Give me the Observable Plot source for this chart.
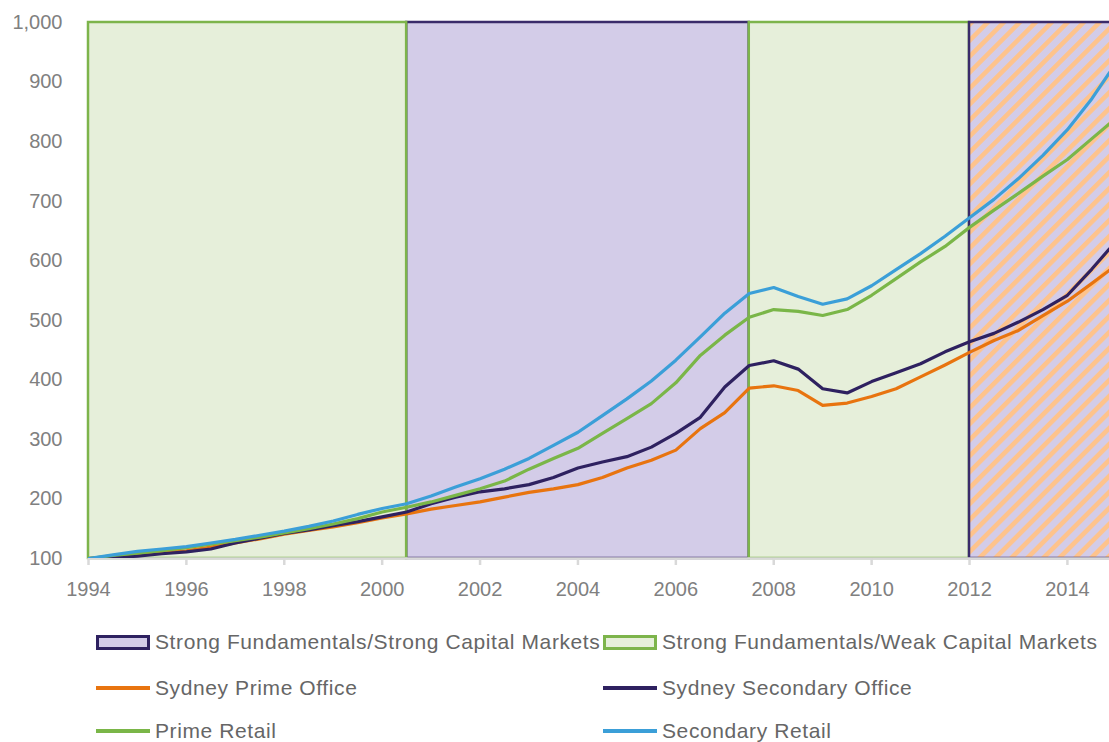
<!DOCTYPE html>
<html>
<head>
<meta charset="utf-8">
<script src="https://cdn.jsdelivr.net/npm/d3@7"></script>
<script src="https://cdn.jsdelivr.net/npm/@observablehq/plot@0.6"></script>
<style>
  html, body { margin: 0; padding: 0; background: #fff; }
  #wrap { position: relative; width: 1109px; height: 742px; overflow: hidden; font-family: "Liberation Sans", Arial, sans-serif; }
  #chart { position: absolute; left: 0; top: 0; }
  .leg { position: absolute; display: flex; align-items: center; font-size: 21px; letter-spacing: 0.6px; color: #666; white-space: nowrap; }
  .sw-box { box-sizing: border-box; width: 54px; height: 15px; border: 3px solid; margin-right: 5px; }
  .sw-line { width: 54px; height: 4px; margin-right: 5px; }
</style>
</head>
<body>
<div id="wrap">
  <div id="chart"></div>
  <div id="legend"></div>
</div>
<script>
// ---- Data ----
const years = [1994, 1994.5, 1995, 1995.5, 1996, 1996.5, 1997, 1997.5, 1998, 1998.5,
  1999, 1999.5, 2000, 2000.5, 2001, 2001.5, 2002, 2002.5, 2003, 2003.5,
  2004, 2004.5, 2005, 2005.5, 2006, 2006.5, 2007, 2007.5, 2008, 2008.5,
  2009, 2009.5, 2010, 2010.5, 2011, 2011.5, 2012, 2012.5, 2013, 2013.5,
  2014, 2014.5, 2014.86];

const sydneyPrimeOffice = [100, 104, 107, 110, 113, 119, 126, 133, 141, 147,
  153, 160, 168, 175, 183, 189, 195, 203, 211, 217,
  224, 236, 252, 265, 282, 318, 345, 386, 390, 382,
  357, 361, 372, 385, 405, 425, 446, 466, 483, 508,
  532, 562, 584];

const sydneySecondaryOffice = [100, 101, 104, 108, 111, 116, 126, 134, 142, 148,
  155, 162, 170, 178, 192, 203, 212, 217, 224, 236,
  252, 262, 271, 287, 310, 337, 388, 424, 432, 418,
  385, 378, 397, 412, 427, 447, 464, 478, 497, 518,
  542, 586, 620];

const primeRetail = [100, 105, 109, 113, 118, 124, 130, 136, 143, 150,
  158, 167, 178, 186, 195, 206, 217, 230, 250, 268,
  285, 310, 335, 360, 395, 441, 475, 505, 518, 515,
  508, 518, 542, 570, 598, 624, 656, 685, 713, 742,
  770, 805, 830];

const secondaryRetail = [100, 106, 112, 116, 120, 126, 132, 139, 146, 154,
  163, 174, 184, 192, 205, 220, 234, 250, 268, 290,
  312, 340, 368, 398, 433, 472, 512, 545, 555, 540,
  527, 536, 558, 585, 612, 641, 672, 703, 738, 777,
  820, 872, 916];

const seriesNames = ["Sydney Prime Office", "Sydney Secondary Office", "Prime Retail", "Secondary Retail"];
const seriesValues = [sydneyPrimeOffice, sydneySecondaryOffice, primeRetail, secondaryRetail];
const seriesColors = ["#E8740F", "#2E2160", "#7AB648", "#3B9FD8"];

const phaseNames = ["Strong Fundamentals/Weak Capital Markets", "Strong Fundamentals/Strong Capital Markets",
  "Strong Fundamentals/Weak Capital Markets", "Strong Fundamentals/Strong Capital Markets"];
const phaseStart = [1994, 2000.5, 2007.5, 2012];
const phaseEnd = [2000.5, 2007.5, 2012, 2015.2];
const phaseKind = ["weak", "strong", "weak", "strongHatched"];

const xTicks = [1994, 1996, 1998, 2000, 2002, 2004, 2006, 2008, 2010, 2012, 2014];
const yTicks = [100, 200, 300, 400, 500, 600, 700, 800, 900, 1000];

// ---- Build tables ----
const lineData = seriesNames.flatMap((name, i) =>
  years.map((yr, j) => ({series: name, year: yr, value: seriesValues[i][j]})));
const phases = phaseStart.map((s, i) => ({name: phaseNames[i], start: s, end: phaseEnd[i], kind: phaseKind[i]}));

const purpleFill = "#D3CCE8", purpleStroke = "#3A2B6A";
const greenFill = "#E6EFDA", greenStroke = "#7DB44B";

const chart = Plot.plot({
  width: 1109,
  height: 600,
  marginLeft: 88,
  marginRight: 0,
  marginTop: 22,
  marginBottom: 42,
  style: {fontFamily: "Liberation Sans, Arial, sans-serif", fontSize: "20px", color: "#808080", background: "transparent"},
  x: {domain: [1994, 2014.86], label: null},
  y: {domain: [100, 1000], label: null},
  color: {domain: seriesNames, range: seriesColors},
  marks: [
    Plot.rect(phases.filter(d => d.kind === "strong"), {x1: "start", x2: "end", y1: 100, y2: 1000,
      fill: purpleFill, stroke: purpleStroke, strokeWidth: 2.5}),
    Plot.rect(phases.filter(d => d.kind === "weak"), {x1: "start", x2: "end", y1: 100, y2: 1000,
      fill: greenFill, stroke: greenStroke, strokeWidth: 2.5}),
    Plot.rect(phases.filter(d => d.kind === "strongHatched"), {x1: "start", x2: "end", y1: 100, y2: 1000,
      fill: "url(#hatch)", stroke: purpleStroke, strokeWidth: 2.5}),
    Plot.ruleY([100], {stroke: "#D9D9D9", strokeWidth: 2.5}),
    Plot.line(lineData, {x: "year", y: "value", z: "series", stroke: "series", strokeWidth: 3.2, curve: "linear", clip: true}),
    Plot.axisX({ticks: xTicks, tickFormat: d => String(d), tickSize: 7, tickPadding: 16, label: null}),
    Plot.axisY({ticks: yTicks, tickFormat: d3.format(","), tickSize: 0, tickPadding: 26, label: null})
  ]
});

// hatch pattern
const svg = d3.select(chart);
const defs = svg.insert("defs", ":first-child");
const pat = defs.append("pattern").attr("id", "hatch").attr("patternUnits", "userSpaceOnUse")
  .attr("width", 11.3).attr("height", 11.3).attr("patternTransform", "rotate(45)");
pat.append("rect").attr("width", 11.3).attr("height", 11.3).attr("fill", purpleFill);
pat.append("rect").attr("width", 4.6).attr("height", 11.3).attr("fill", "#FEC38C");
svg.selectAll('[aria-label="x-axis tick"]').attr("stroke", "#D9D9D9").attr("stroke-width", 2.5);

document.getElementById("chart").appendChild(chart);

// ---- Legend ----
const legendItems = [
  {label: "Strong Fundamentals/Strong Capital Markets", type: "box", fill: purpleFill, stroke: "#2E2160", left: 96, top: 642},
  {label: "Strong Fundamentals/Weak Capital Markets", type: "box", fill: greenFill, stroke: greenStroke, left: 603, top: 642},
  {label: seriesNames[0], type: "line", stroke: seriesColors[0], left: 96, top: 688},
  {label: seriesNames[1], type: "line", stroke: seriesColors[1], left: 603, top: 688},
  {label: seriesNames[2], type: "line", stroke: seriesColors[2], left: 96, top: 731},
  {label: seriesNames[3], type: "line", stroke: seriesColors[3], left: 603, top: 731}
];
const legend = document.getElementById("legend");
legendItems.forEach(it => {
  const d = document.createElement("div");
  d.className = "leg";
  d.style.left = it.left + "px";
  d.style.top = (it.top - 13) + "px";
  d.style.height = "26px";
  const sw = document.createElement("span");
  if (it.type === "box") {
    sw.className = "sw-box";
    sw.style.background = it.fill;
    sw.style.borderColor = it.stroke;
  } else {
    sw.className = "sw-line";
    sw.style.background = it.stroke;
  }
  d.appendChild(sw);
  const t = document.createElement("span");
  t.textContent = it.label;
  d.appendChild(t);
  legend.appendChild(d);
});
</script>
</body>
</html>
